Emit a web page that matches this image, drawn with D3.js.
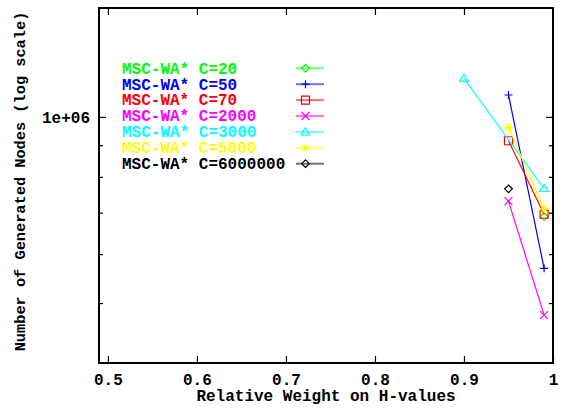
<!DOCTYPE html>
<html>
<head>
<meta charset="utf-8">
<script src="https://cdn.jsdelivr.net/npm/d3@7"></script>
<style>
  html, body { margin: 0; padding: 0; background: #fff; }
  svg { display: block; font-family: "Liberation Mono", "DejaVu Sans Mono", monospace; font-weight: bold; }
</style>
</head>
<body>
<svg id="chart" width="563" height="408"></svg>
<script>
// Series definitions
const seriesNames = ["MSC-WA* C=20", "MSC-WA* C=50", "MSC-WA* C=70", "MSC-WA* C=2000",
                     "MSC-WA* C=3000", "MSC-WA* C=5000", "MSC-WA* C=6000000"];
const seriesColors = ["#00ff00", "#0000ff", "#ff0000", "#ff00ff", "#00ffff", "#ffff00", "#000000"];
const seriesMarkers = ["diamond", "plus", "square", "times", "triangle", "asterisk", "diamond"];

// Relative weight (x) and number of generated nodes (y) for each series
const weightsC20 = [0.99];           const nodesC20 = [690000];
const weightsC50 = [0.95, 0.99];     const nodesC50 = [1085000, 569000];
const weightsC70 = [0.95, 0.99];     const nodesC70 = [915000, 696000];
const weightsC2000 = [0.95, 0.99];   const nodesC2000 = [731000, 478000];
const weightsC3000 = [0.9, 0.99];    const nodesC3000 = [1154000, 766000];
const weightsC5000 = [0.95, 0.99];   const nodesC5000 = [962000, 710000];
const weightsC6000000 = [0.95];      const nodesC6000000 = [765000];

const seriesX = [weightsC20, weightsC50, weightsC70, weightsC2000, weightsC3000, weightsC5000, weightsC6000000];
const seriesY = [nodesC20, nodesC50, nodesC70, nodesC2000, nodesC3000, nodesC5000, nodesC6000000];

// Axis ticks
const xTickValues = [0.5, 0.6, 0.7, 0.8, 0.9, 1];
const xTickLabels = ["0.5", "0.6", "0.7", "0.8", "0.9", "1"];
const yMajorTicks = [1e6];
const yMajorLabels = ["1e+06"];
const yMinorTicks = [500000, 600000, 700000, 800000, 900000];

const xTitle = "Relative Weight on H-values";
const yTitle = "Number of Generated Nodes (log scale)";

// Layout
const plot = { left: 99, right: 553, top: 8, bottom: 363 };
const svg = d3.select("#chart");

const x = d3.scaleLinear().domain([0.49, 1]).range([plot.left, plot.right]);
const y = d3.scaleLog().domain([400000, 1500000]).range([plot.bottom, plot.top]);

// Marker path builders (centered at origin)
function markerPath(type, r) {
  const p = d3.path();
  if (type === "plus") {
    p.moveTo(-r, 0); p.lineTo(r, 0); p.moveTo(0, -r); p.lineTo(0, r);
  } else if (type === "times") {
    p.moveTo(-r, -r); p.lineTo(r, r); p.moveTo(-r, r); p.lineTo(r, -r);
  } else if (type === "square") {
    p.rect(-r, -r, 2 * r, 2 * r);
  } else if (type === "diamond") {
    const d = r * 0.95;
    p.moveTo(0, -d); p.lineTo(d, 0); p.lineTo(0, d); p.lineTo(-d, 0); p.closePath();
  } else if (type === "triangle") {
    p.moveTo(0, -r * 1.05); p.lineTo(r * 1.1, r * 0.75); p.lineTo(-r * 1.1, r * 0.75); p.closePath();
  } else if (type === "asterisk") {
    p.moveTo(-r, 0); p.lineTo(r, 0); p.moveTo(0, -r); p.lineTo(0, r);
    p.moveTo(-r * 0.8, -r * 0.8); p.lineTo(r * 0.8, r * 0.8);
    p.moveTo(-r * 0.8, r * 0.8); p.lineTo(r * 0.8, -r * 0.8);
  }
  return p.toString();
}

// X axis (bottom, ticks pointing inward)
const xAxisBottom = d3.axisBottom(x).tickValues(xTickValues)
  .tickFormat((d, i) => xTickLabels[i]).tickSize(-7).tickPadding(0);
const gxb = svg.append("g").attr("transform", `translate(0,${plot.bottom})`).call(xAxisBottom);
gxb.select(".domain").remove();
gxb.selectAll(".tick line").attr("stroke", "#000").attr("stroke-width", 1.2);
gxb.selectAll(".tick text").attr("y", 22).attr("dy", 0)
  .attr("font-size", 16).attr("font-family", "Liberation Mono, monospace")
  .attr("font-weight", "bold").attr("fill", "#000");

// X ticks mirrored on the top edge
const xAxisTop = d3.axisTop(x).tickValues(xTickValues.filter(v => v < 1)).tickFormat("").tickSize(-7);
const gxt = svg.append("g").attr("transform", `translate(0,${plot.top})`).call(xAxisTop);
gxt.select(".domain").remove();
gxt.selectAll(".tick line").attr("stroke", "#000").attr("stroke-width", 1.2);

// Y axis (left) with major label and minor ticks
const yAxisLeft = d3.axisLeft(y).tickValues(yMajorTicks)
  .tickFormat((d, i) => yMajorLabels[i]).tickSize(-7).tickPadding(9);
const gyl = svg.append("g").attr("transform", `translate(${plot.left},0)`).call(yAxisLeft);
gyl.select(".domain").remove();
gyl.selectAll(".tick line").attr("stroke", "#000").attr("stroke-width", 1.2);
gyl.selectAll(".tick text").attr("x", -9).attr("dy", "0.33em")
  .attr("font-size", 16).attr("font-family", "Liberation Mono, monospace")
  .attr("font-weight", "bold").attr("fill", "#000");

const yMinorLeft = d3.axisLeft(y).tickValues(yMinorTicks).tickFormat("").tickSize(-4);
const gyml = svg.append("g").attr("transform", `translate(${plot.left},0)`).call(yMinorLeft);
gyml.select(".domain").remove();
gyml.selectAll(".tick line").attr("stroke", "#000").attr("stroke-width", 1.2);

// Mirrored y ticks on the right edge
const yAxisRight = d3.axisRight(y).tickValues(yMajorTicks).tickFormat("").tickSize(-7);
const gyr = svg.append("g").attr("transform", `translate(${plot.right},0)`).call(yAxisRight);
gyr.select(".domain").remove();
gyr.selectAll(".tick line").attr("stroke", "#000").attr("stroke-width", 1.2);
const yMinorRight = d3.axisRight(y).tickValues(yMinorTicks).tickFormat("").tickSize(-4);
const gymr = svg.append("g").attr("transform", `translate(${plot.right},0)`).call(yMinorRight);
gymr.select(".domain").remove();
gymr.selectAll(".tick line").attr("stroke", "#000").attr("stroke-width", 1.2);

// Plot frame
svg.append("rect")
  .attr("x", plot.left).attr("y", plot.top)
  .attr("width", plot.right - plot.left).attr("height", plot.bottom - plot.top)
  .attr("fill", "none").attr("stroke", "#000").attr("stroke-width", 2);

// Axis titles
svg.append("text")
  .attr("x", (plot.left + plot.right) / 2).attr("y", 401)
  .attr("text-anchor", "middle").attr("font-size", 16).attr("fill", "#000")
  .text(xTitle);
svg.append("text")
  .attr("transform", `translate(25,${(plot.top + plot.bottom) / 2 - 4}) rotate(-90)`)
  .attr("text-anchor", "middle").attr("font-size", 15.3).attr("fill", "#000")
  .text(yTitle);

// Data lines and markers
const line = d3.line().x(d => x(d[0])).y(d => y(d[1]));
seriesNames.forEach((name, i) => {
  const pts = seriesX[i].map((w, j) => [w, seriesY[i][j]]);
  const g = svg.append("g");
  if (pts.length > 1) {
    g.append("path").datum(pts).attr("d", line)
      .attr("fill", "none").attr("stroke", seriesColors[i]).attr("stroke-width", 1.2);
  }
  g.selectAll("path.marker").data(pts).enter().append("path")
    .attr("class", "marker")
    .attr("transform", d => `translate(${x(d[0])},${y(d[1])})`)
    .attr("d", markerPath(seriesMarkers[i], 4))
    .attr("fill", "none").attr("stroke", seriesColors[i]).attr("stroke-width", 1.2);
});

// Legend
const legendX = 122, legendY0 = 68.3, legendStep = 15.9;
const legend = svg.append("g");
seriesNames.forEach((name, i) => {
  const cy = legendY0 + i * legendStep;
  legend.append("text")
    .attr("x", legendX).attr("y", cy + 5.3)
    .attr("font-size", 16).attr("fill", seriesColors[i])
    .text(name);
  legend.append("line")
    .attr("x1", 296).attr("x2", 324).attr("y1", cy).attr("y2", cy)
    .attr("stroke", seriesColors[i]).attr("stroke-width", 2).attr("stroke-opacity", 0.55);
  legend.append("path")
    .attr("transform", `translate(305.5,${cy})`)
    .attr("d", markerPath(seriesMarkers[i], 4))
    .attr("fill", "none").attr("stroke", seriesColors[i]).attr("stroke-width", 1.2);
});
</script>
</body>
</html>
